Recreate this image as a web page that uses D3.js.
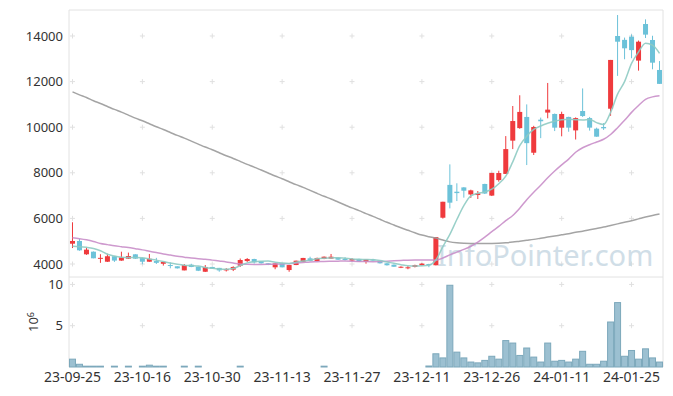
<!DOCTYPE html>
<html>
<head>
<meta charset="utf-8">
<script src="https://cdn.jsdelivr.net/npm/d3@7"></script>
<style>
	body { margin: 0; background: #fff; }
	svg { display: block; }
	svg text { font-family: 'Noto Sans', sans-serif; }
</style>
</head>
<body>
<div class="chart"></div>
<script>
// Paramètres de la visualisation
const width = 673;
const height = 396;
const plot = { left: 69, right: 663, top: 10, split: 277, bottom: 367 };

// Jours de bourse
const dates = [
	'23-09-25', '23-09-26', '23-09-27', '23-10-04', '23-10-05', '23-10-06', '23-10-10', '23-10-11', '23-10-12', '23-10-13',
	'23-10-16', '23-10-17', '23-10-18', '23-10-19', '23-10-20', '23-10-23', '23-10-24', '23-10-25', '23-10-26', '23-10-27',
	'23-10-30', '23-10-31', '23-11-01', '23-11-02', '23-11-03', '23-11-06', '23-11-07', '23-11-08', '23-11-09', '23-11-10',
	'23-11-13', '23-11-14', '23-11-15', '23-11-16', '23-11-17', '23-11-20', '23-11-21', '23-11-22', '23-11-23', '23-11-24',
	'23-11-27', '23-11-28', '23-11-29', '23-11-30', '23-12-01', '23-12-04', '23-12-05', '23-12-06', '23-12-07', '23-12-08',
	'23-12-11', '23-12-12', '23-12-13', '23-12-14', '23-12-15', '23-12-18', '23-12-19', '23-12-20', '23-12-21', '23-12-22',
	'23-12-26', '23-12-27', '23-12-28', '24-01-02', '24-01-03', '24-01-04', '24-01-05', '24-01-08', '24-01-09', '24-01-10',
	'24-01-11', '24-01-12', '24-01-15', '24-01-16', '24-01-17', '24-01-18', '24-01-19', '24-01-22', '24-01-23', '24-01-24',
	'24-01-25', '24-01-26', '24-01-29', '24-01-30', '24-01-31'
];

const open = [
	4890, 5010, 4425, 4540, 4240, 4100, 4340, 4150, 4235, 4425,
	4260, 4100, 4130, 4010, 3955, 3900, 3720, 3970, 3880, 3660,
	3870, 3830, 3720, 3750, 3925, 4130, 4220, 4120, 4030, 3855,
	4030, 3735, 3955, 4090, 4250, 4130, 4220, 4235, 4275, 4220,
	4150, 4220, 4090, 4200, 4130, 4030, 3970, 3840, 3825, 3870,
	3945, 4000, 3945, 6030, 7470, 7170, 7360, 7050, 7025, 7510,
	7000, 7680, 7950, 9410, 9960, 10450, 8880, 10330, 10640, 10580,
	9980, 10450, 9860, 10710, 10400, 9935, 10010, 10810, 14000, 13830,
	13970, 12920, 14525, 13825, 12510
];
const high = [
	5830, 5100, 4715, 4550, 4430, 4450, 4350, 4540, 4500, 4430,
	4270, 4440, 4270, 4100, 4070, 3900, 4000, 4010, 3890, 3955,
	3880, 3830, 3820, 3900, 4240, 4260, 4230, 4130, 4040, 4040,
	4040, 3960, 4150, 4270, 4320, 4280, 4330, 4440, 4280, 4300,
	4260, 4230, 4215, 4230, 4140, 4040, 3980, 3900, 3910, 3970,
	4040, 4010, 5180, 6730, 8370, 7540, 7370, 7260, 7200, 7520,
	8000, 8090, 9610, 10930, 11400, 11000, 10060, 10420, 11940, 10600,
	10680, 10460, 10430, 11700, 10450, 9980, 10180, 12950, 14920, 13930,
	14070, 13800, 14730, 14010, 12900
];
const low = [
	4700, 4580, 4400, 4250, 4050, 4090, 4090, 4140, 4230, 4220,
	3990, 4100, 4000, 3930, 3810, 3800, 3720, 3860, 3690, 3650,
	3780, 3660, 3670, 3690, 3870, 4090, 4020, 4020, 3950, 3770,
	3850, 3660, 3950, 4080, 4120, 4120, 4210, 4230, 4180, 4150,
	4120, 4090, 4015, 4120, 4020, 3930, 3870, 3820, 3770, 3850,
	3940, 3860, 3940, 5990, 6440, 6760, 6910, 6900, 6850, 7070,
	6980, 7610, 7950, 9040, 9930, 8340, 8780, 9520, 10390, 9830,
	9600, 9800, 9460, 10450, 9850, 9580, 9880, 10500, 12250, 12980,
	13025, 12480, 13910, 12540, 11900
];
const close = [
	5010, 4600, 4630, 4250, 4270, 4340, 4150, 4290, 4350, 4235,
	4100, 4230, 4050, 4090, 3930, 3810, 3955, 3870, 3705, 3870,
	3790, 3720, 3780, 3870, 4175, 4220, 4075, 4030, 3960, 4030,
	3855, 3955, 4145, 4265, 4130, 4265, 4320, 4320, 4190, 4180,
	4220, 4100, 4205, 4150, 4030, 3945, 3880, 3880, 3855, 3955,
	4015, 3945, 5180, 6730, 6690, 7110, 7215, 7230, 7100, 7090,
	7990, 7990, 9040, 10270, 10670, 9300, 10010, 10260, 10770, 9980,
	10580, 9980, 10400, 10490, 9980, 9585, 9950, 12950, 13750, 13460,
	13380, 13750, 14060, 12830, 11900
];

// Volumes (actions)
const volume = [
	950000, 330000, 100000, 100000, 100000, 0, 100000, 0, 100000, 0,
	100000, 220000, 100000, 100000, 0, 0, 100000, 0, 100000, 0,
	0, 0, 0, 0, 100000, 0, 0, 0, 0, 0,
	0, 0, 0, 0, 0, 0, 100000, 0, 0, 0,
	0, 0, 0, 0, 0, 0, 0, 0, 0, 0,
	0, 120000, 1600000, 1100000, 9900000, 1800000, 1100000, 600000, 500000, 800000,
	1300000, 950000, 3200000, 2900000, 1400000, 2300000, 1200000, 600000, 2900000, 700000,
	800000, 600000, 950000, 1900000, 330000, 330000, 700000, 5450000, 7800000, 1300000,
	2000000, 950000, 2200000, 1100000, 600000
];

// Moyennes mobiles
const ma5 = [
	4775, 4760, 4730, 4680, 4580, 4430, 4350, 4300, 4280, 4280,
	4275, 4220, 4170, 4110, 4040, 3990, 3950, 3930, 3910, 3850,
	3810, 3780, 3770, 3800, 3930, 4050, 4100, 4120, 4130, 4080,
	4040, 4020, 4080, 4130, 4170, 4230, 4255, 4265, 4275, 4250,
	4220, 4205, 4200, 4190, 4150, 4090, 4030, 3970, 3920, 3910,
	3920, 3950, 4175, 4760, 5300, 5950, 6560, 6990, 7100, 7160,
	7280, 7520, 7850, 8480, 9190, 9600, 9900, 10050, 10170, 10260,
	10330, 10345, 10330, 10320, 10340, 10200, 10120, 10650, 11450, 12000,
	12800, 13300, 13680, 13600, 13240
];
const ma20 = [
	5150, 5110, 5060, 4990, 4900, 4850, 4800, 4760, 4720, 4670,
	4620, 4560, 4500, 4440, 4390, 4340, 4300, 4260, 4230, 4210,
	4170, 4130, 4090, 4040, 4000, 3985, 3980, 3980, 3985, 3995,
	4005, 4015, 4040, 4065, 4090, 4100, 4110, 4120, 4125, 4130,
	4125, 4115, 4105, 4100, 4105, 4120, 4140, 4155, 4170, 4175,
	4175, 4175, 4170, 4260, 4400, 4520, 4640, 4780, 4960, 5180,
	5420, 5650, 5900, 6130, 6450, 6820, 7150, 7450, 7780, 8080,
	8350, 8600, 8900, 9100, 9230, 9350, 9470, 9680, 9980, 10300,
	10650, 10950, 11220, 11330, 11380
];
const ma120 = [
	11550, 11420, 11300, 11160, 11040, 10910, 10780, 10660, 10530, 10400,
	10280, 10150, 10020, 9900, 9770, 9640, 9520, 9390, 9260, 9130,
	9010, 8880, 8750, 8630, 8500, 8370, 8250, 8120, 7990, 7860,
	7740, 7610, 7480, 7360, 7230, 7100, 6970, 6850, 6720, 6590,
	6460, 6340, 6210, 6090, 5960, 5830, 5710, 5590, 5480, 5370,
	5270, 5200, 5140, 5050, 4970, 4930, 4910, 4900, 4895, 4895,
	4900, 4910, 4930, 4960, 5000, 5040, 5080, 5130, 5180, 5230,
	5280, 5330, 5390, 5440, 5500, 5560, 5620, 5690, 5760, 5830,
	5900, 5980, 6060, 6130, 6190
];

// Graduations
const xTicks = ['23-09-25', '23-10-16', '23-10-30', '23-11-13', '23-11-27', '23-12-11', '23-12-26', '24-01-11', '24-01-25'];
const priceTicks = [4000, 6000, 8000, 10000, 12000, 14000];
const volumeTicks = [5000000, 10000000];

const colors = { up: '#ef3a3d', down: '#6cc2d9', ma5: '#8ecbc3', ma20: '#c98ec9', ma120: '#9a9a9a' };

const svg = d3.select('.chart')
	.append('svg')
	.attr('width', width)
	.attr('height', height);

// Echelles
const x = d3.scaleBand()
	.domain(dates)
	.range([plot.left, plot.right]);

const yPrice = d3.scaleLinear()
	.domain([3430, 15140])
	.range([plot.split, plot.top]);

const yVol = d3.scaleLinear()
	.domain([0, 10900000])
	.range([plot.bottom, plot.split]);

const cx = d => x(d) + x.bandwidth() / 2;

// Cadres des panneaux
const frame = svg.append('g')
	.attr('fill', 'none')
	.attr('stroke', '#e2e2e2');
frame.append('path')
	.attr('d', `M${plot.left},${plot.bottom}V${plot.top}H${plot.right}V${plot.split}`);
frame.append('path')
	.attr('d', `M${plot.left},${plot.split}H${plot.right}V${plot.bottom}`);

// Petites croix de grille
const crosses = [];
xTicks.forEach(t => {
	priceTicks.forEach(v => crosses.push([cx(t), yPrice(v)]));
	volumeTicks.forEach(v => crosses.push([cx(t), yVol(v)]));
});
svg.append('g')
	.attr('stroke', '#e0e0e0')
	.selectAll('path')
	.data(crosses)
	.join('path')
		.attr('d', d => `M${d[0] - 2.5},${d[1]}h5M${d[0]},${d[1] - 2.5}v5`);

// Filigrane
svg.append('text')
	.attr('x', 437)
	.attr('y', 266)
	.style('font-size', '29px')
	.style('fill', '#c5d6e2')
	.style('opacity', 0.8)
	.text('InfoPointer.com');

// Chandeliers
const candles = svg.append('g')
	.selectAll('g')
	.data(dates.map((d, i) => ({ date: d, o: open[i], h: high[i], l: low[i], c: close[i] })))
	.join('g')
		.attr('fill', d => d.c >= d.o ? colors.up : colors.down)
		.attr('stroke', d => d.c >= d.o ? colors.up : colors.down);

candles.append('line')
	.attr('x1', d => cx(d.date))
	.attr('x2', d => cx(d.date))
	.attr('y1', d => yPrice(d.h))
	.attr('y2', d => yPrice(d.l));

candles.append('rect')
	.attr('stroke', 'none')
	.attr('x', d => cx(d.date) - 2.5)
	.attr('width', 5)
	.attr('y', d => yPrice(Math.max(d.o, d.c)))
	.attr('height', d => Math.max(1, yPrice(Math.min(d.o, d.c)) - yPrice(Math.max(d.o, d.c))));

// Moyennes mobiles
const line = series => d3.line()
	.x((d, i) => cx(dates[i]))
	.y(d => yPrice(d))
	.curve(d3.curveMonotoneX)(series);

[[ma120, colors.ma120], [ma20, colors.ma20], [ma5, colors.ma5]].forEach(([s, c]) => {
	svg.append('path')
		.attr('d', line(s))
		.attr('fill', 'none')
		.attr('stroke', c)
		.attr('stroke-width', 1.5)
		.attr('opacity', 0.9);
});

// Barres de volume
svg.append('g')
	.attr('fill', '#9cc0d1')
	.attr('stroke', '#7ca8bb')
	.selectAll('rect')
	.data(dates.map((d, i) => ({ date: d, v: volume[i] })).filter(d => d.v > 0))
	.join('rect')
		.attr('x', d => x(d.date) + 0.5)
		.attr('width', x.bandwidth() - 1)
		.attr('y', d => yVol(d.v))
		.attr('height', d => yVol(0) - yVol(d.v));

// Axes
const styleAxis = size => g => {
	g.select('.domain').remove();
	g.selectAll('text').style('font-size', size).style('fill', '#333');
};

svg.append('g')
	.attr('transform', `translate(${plot.left},0)`)
	.call(d3.axisLeft(yPrice).tickValues(priceTicks).tickSize(0).tickPadding(6).tickFormat(d3.format('d')))
	.call(styleAxis('13px'));

svg.append('g')
	.attr('transform', `translate(${plot.left},0)`)
	.call(d3.axisLeft(yVol).tickValues(volumeTicks).tickSize(0).tickPadding(6).tickFormat(d => d / 1e6))
	.call(styleAxis('13px'));

svg.append('g')
	.attr('transform', `translate(0,${plot.bottom})`)
	.call(d3.axisBottom(x).tickValues(xTicks).tickSize(0).tickPadding(5.5))
	.call(styleAxis('14px'));

// Unité des volumes
const unit = svg.append('text')
	.attr('transform', 'translate(38,322) rotate(-90)')
	.attr('text-anchor', 'middle')
	.style('font-size', '13px')
	.style('fill', '#333');
unit.append('tspan').text('10');
unit.append('tspan').attr('dy', '-0.45em').style('font-size', '9px').text('6');
</script>
</body>
</html>
